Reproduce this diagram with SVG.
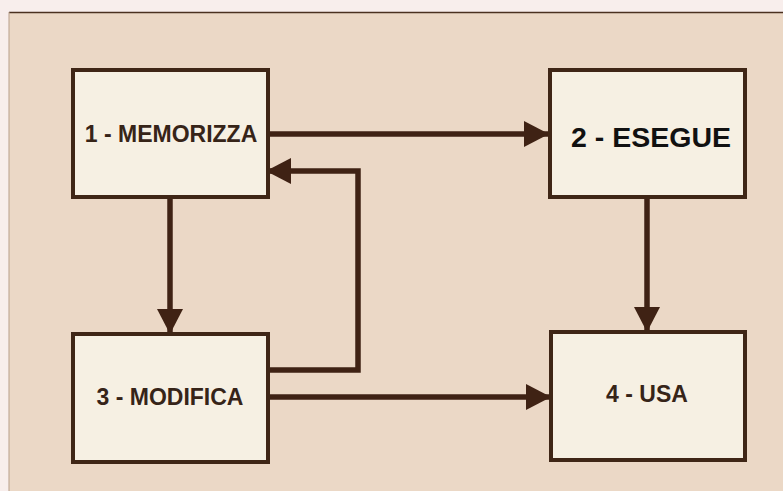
<svg xmlns="http://www.w3.org/2000/svg" width="783" height="491" viewBox="0 0 783 491">
  <style>
    .box { fill: #f6f0e3; stroke: #3f2616; stroke-width: 4; }
    .lbl { font-family: "Liberation Sans", Arial, sans-serif; font-weight: bold; font-size: 23px; fill: #362418; text-anchor: middle; }
    .big { font-size: 28.5px; fill: #111111; }
    .conn { fill: none; stroke: #3f2214; stroke-width: 5.5; }
  </style>
  <defs>
    <marker id="ah" markerUnits="userSpaceOnUse" markerWidth="25" markerHeight="26" refX="25" refY="13" orient="auto">
      <path d="M0,0 L25,13 L0,26 Z" fill="#3f2214"/>
    </marker>
  </defs>
  <rect x="0" y="0" width="783" height="491" fill="#f8eeec"/>
  <rect x="9" y="12" width="774" height="479" fill="#ebd8c6"/>
  <line x1="9" y1="12.5" x2="783" y2="12.5" stroke="#4a3020" stroke-width="1.5"/>
  <line x1="9" y1="12" x2="9" y2="491" stroke="#b89f8a" stroke-width="1"/>

  <g id="connectors">
    <path class="conn" d="M268,134 H549" marker-end="url(#ah)"/>
    <path class="conn" d="M170,197 V334" marker-end="url(#ah)"/>
    <path class="conn" d="M647,197 V332" marker-end="url(#ah)"/>
    <path class="conn" d="M268,397 H551" marker-end="url(#ah)"/>
    <path class="conn" d="M264,370 H358 V171 H266" marker-end="url(#ah)"/>
  </g>

  <g id="node1">
    <rect class="box" x="73" y="70" width="195" height="127"/>
    <text class="lbl" x="171" y="142">1 - MEMORIZZA</text>
  </g>
  <g id="node2">
    <rect class="box" x="550" y="70" width="195" height="127"/>
    <text class="lbl big" x="651" y="147">2 - ESEGUE</text>
  </g>
  <g id="node3">
    <rect class="box" x="73" y="334" width="195" height="128"/>
    <text class="lbl" x="170" y="405">3 - MODIFICA</text>
  </g>
  <g id="node4">
    <rect class="box" x="551" y="332" width="194" height="128"/>
    <text class="lbl" x="647" y="402">4 - USA</text>
  </g>
</svg>
